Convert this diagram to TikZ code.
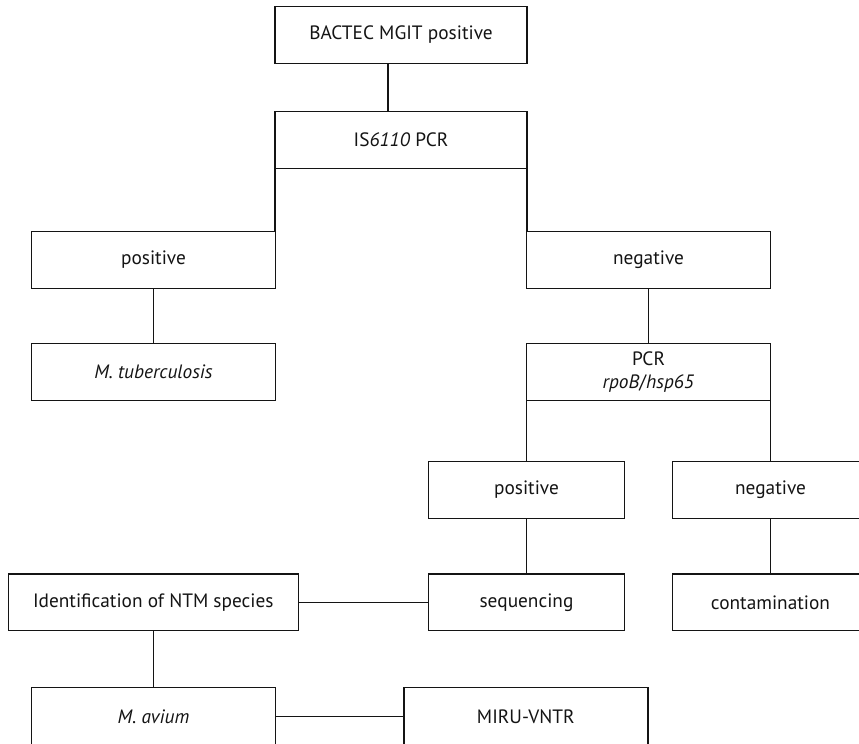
\documentclass[tikz,border=0pt]{standalone}
\usepackage{fontspec}
\setmainfont{PT Sans}
\begin{document}
\begin{tikzpicture}[x=0.75pt,y=-0.75pt,
  box/.style={draw=black!92, line width=1.05pt, minimum height=42.5pt, inner sep=0pt, outer sep=0pt, align=center,
    font=\fontsize{14.5pt}{16pt}\selectfont, text=black!92},
  wA/.style={box, minimum width=189pt},
  wB/.style={box, minimum width=183pt},
  wC/.style={box, minimum width=147pt},
  wD/.style={box, minimum width=217.5pt},
  link/.style={draw=black!92, line width=1.05pt}]
\useasboundingbox (0,0) rectangle (859,743);
\clip (0,0) rectangle (859,743);
\node[wA] (b1) at (401,35) {BACTEC MGIT positive};
\node[wA] (b2) at (401,140) {IS\textit{6110} PCR};
\node[wB] (pos) at (153.5,260) {positive};
\node[wB] (neg) at (648.5,260) {negative};
\node[wB] (mtb) at (153.5,372) {\textit{M. tuberculosis}};
\node[wB] (pcr) at (648.5,372) {PCR\\[1pt]\textit{rpoB}/\textit{hsp65}};
\node[wC] (pos2) at (526.5,490) {positive};
\node[wC] (neg2) at (770.5,490) {negative};
\node[wC] (seq) at (526.5,602.3) {sequencing};
\node[wC] (cont) at (770.5,602.3) {contamination};
\node[wD] (ident) at (153.3,602.3) {Identification of NTM species};
\node[wB, minimum height=44pt] (mav) at (153.5,716.6) {\textit{M. avium}};
\node[wB, minimum height=44pt] (miru) at (525.8,716.6) {MIRU-VNTR};
\draw[link] ([xshift=-9.75pt]b1.south) -- ([xshift=-9.75pt]b2.north);
\draw[link] (b2.south west) -- (b2.south west |- pos.north);
\draw[link] (b2.south east) -- (b2.south east |- neg.north);
\draw[link] (pos.south) -- (mtb.north);
\draw[link] (neg.south) -- (pcr.north);
\draw[link] (pcr.south west) -- (pcr.south west |- pos2.north);
\draw[link] (pcr.south east) -- (pcr.south east |- neg2.north);
\draw[link] (pos2.south) -- (seq.north);
\draw[link] (neg2.south) -- (cont.north);
\draw[link] (seq.west) -- (ident.east);
\draw[link] (ident.south) -- (ident.south |- mav.north);
\draw[link] (mav.east) -- (miru.west);
\end{tikzpicture}
\end{document}
